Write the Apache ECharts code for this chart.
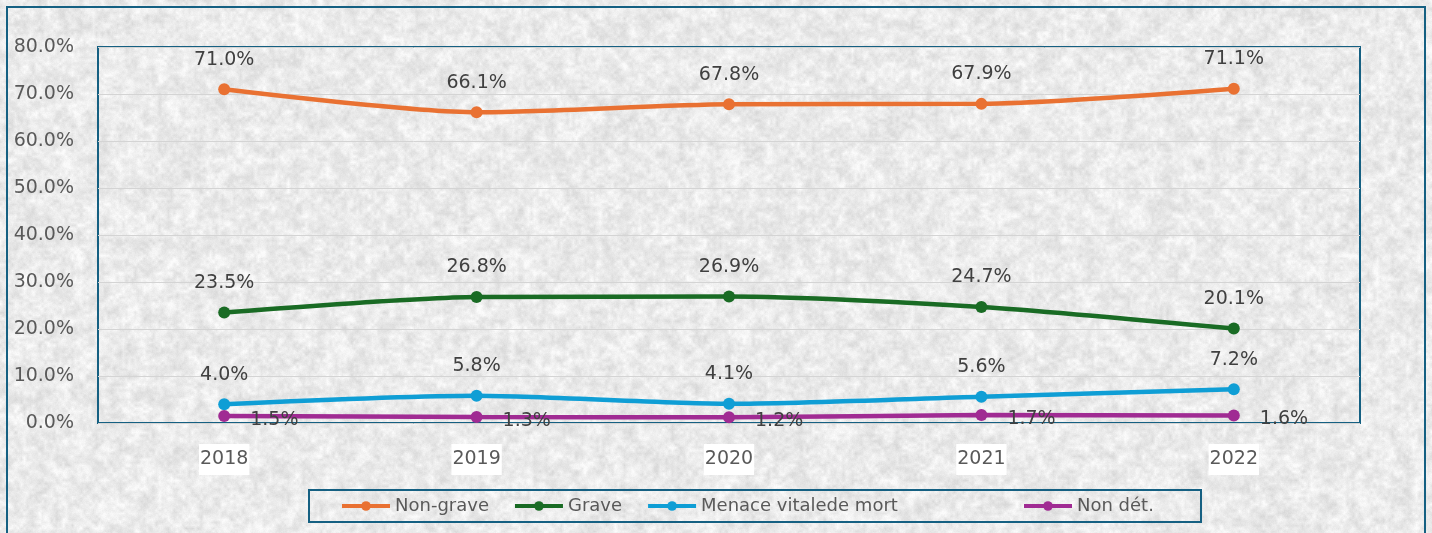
<!DOCTYPE html>
<html><head><meta charset="utf-8">
<script src="https://cdn.jsdelivr.net/npm/echarts@6/dist/echarts.min.js"></script>
<style>html,body{margin:0;padding:0;width:1432px;height:533px;overflow:hidden;background:#ebebeb}#c{width:1432px;height:533px}</style>
</head><body><div id="c"></div>
<script>
const years = ['2018','2019','2020','2021','2022'];
const nonGrave = [71.0, 66.1, 67.8, 67.9, 71.1];
const grave = [23.5, 26.8, 26.9, 24.7, 20.1];
const menace = [4.0, 5.8, 4.1, 5.6, 7.2];
const nonDet = [1.5, 1.3, 1.2, 1.7, 1.6];
const yTicks = [0,10,20,30,40,50,60,70,80];
const seriesNames = ['Non-grave','Grave','Menace vitalede mort','Non dét.'];

// granite-like deterministic texture (decoration only)
(function(){
  const W=1432,H=533,cv=document.createElement('canvas');cv.width=W;cv.height=H;
  const ctx=cv.getContext('2d');const img=ctx.createImageData(W,H);
  let s=98765;const rnd=()=>{s=(s*1103515245+12345)&0x7fffffff;return s/0x7fffffff;};
  function layer(cell){const gw=Math.ceil(W/cell)+2,gh=Math.ceil(H/cell)+2,g=new Float32Array(gw*gh);
    for(let i=0;i<g.length;i++)g[i]=rnd();return {cell,gw,g};}
  const L1=layer(8),L2=layer(3);
  function val(L,x,y){const fx=x/L.cell,fy=y/L.cell,ix=Math.floor(fx),iy=Math.floor(fy),tx=fx-ix,ty=fy-iy,g=L.g,w=L.gw;
    const a=g[iy*w+ix],b=g[iy*w+ix+1],c=g[(iy+1)*w+ix],d=g[(iy+1)*w+ix+1];
    return (a*(1-tx)+b*tx)*(1-ty)+(c*(1-tx)+d*tx)*ty;}
  for(let y=0;y<H;y++)for(let x=0;x<W;x++){
    const v=0.55*val(L1,x,y)+0.45*val(L2,x,y);
    let c=214+v*42+(rnd()-0.5)*6;c=Math.max(198,Math.min(251,c));
    const k=(y*W+x)*4;img.data[k]=c;img.data[k+1]=c;img.data[k+2]=c;img.data[k+3]=255;}
  ctx.putImageData(img,0,0);
  document.body.style.background='url('+cv.toDataURL()+') no-repeat';
})();

const FONT='DejaVu Sans';
const TXT='#595959';
const pct=v=>v.toFixed(1)+'%';
function mk(name,data,color,labelPos){
  return {name,type:'line',data,smooth:0.25,symbol:'circle',symbolSize:12,
    lineStyle:{width:4.5,color},itemStyle:{color},
    label:Object.assign({show:true,color:'#404040',fontFamily:FONT,fontSize:19,
      formatter:p=>pct(p.value)},labelPos)};
}
const legendBase={top:497,itemWidth:48,itemHeight:12,itemGap:24,padding:0,
  lineStyle:{width:4},textStyle:{color:TXT,fontFamily:FONT,fontSize:18}};
const chart=echarts.init(document.getElementById('c'),null,{renderer:'canvas'});
chart.setOption({
  backgroundColor:'transparent',
  animation:false,
  textStyle:{fontFamily:FONT},
  grid:{left:98,right:72,top:47,bottom:110,show:true,borderColor:'#156082',borderWidth:2,backgroundColor:'transparent'},
  xAxis:{type:'category',data:years,boundaryGap:true,
    axisLine:{show:false},axisTick:{show:false},
    axisLabel:{color:TXT,fontFamily:FONT,fontSize:19,margin:21,backgroundColor:'#ffffff',padding:[6,1,6,1]}},
  yAxis:{type:'value',min:0,max:80,interval:10,
    axisLine:{show:false},axisTick:{show:false},
    splitLine:{lineStyle:{color:'#d4d4d4',width:1}},
    axisLabel:{color:TXT,fontFamily:FONT,fontSize:19,margin:24,formatter:v=>pct(v)}},
  legend:[
    Object.assign({left:340,data:seriesNames.slice(0,3)},legendBase),
    Object.assign({left:1022,data:seriesNames.slice(3)},legendBase)
  ],
  series:[
    mk(seriesNames[0],nonGrave,'#E97132',{position:'top',distance:14}),
    mk(seriesNames[1],grave,'#196B24',{position:'top',distance:14}),
    mk(seriesNames[2],menace,'#0F9ED5',{position:'top',distance:14}),
    mk(seriesNames[3],nonDet,'#A02B93',{position:'right',distance:20,offset:[0,4]})
  ],
  graphic:[
    {type:'rect',shape:{x:7,y:7,width:1418,height:540},style:{fill:'none',stroke:'#156082',lineWidth:2},silent:true},
    {type:'rect',shape:{x:309,y:490,width:892,height:32},style:{fill:'none',stroke:'#156082',lineWidth:2},silent:true}
  ]
});
</script></body></html>
